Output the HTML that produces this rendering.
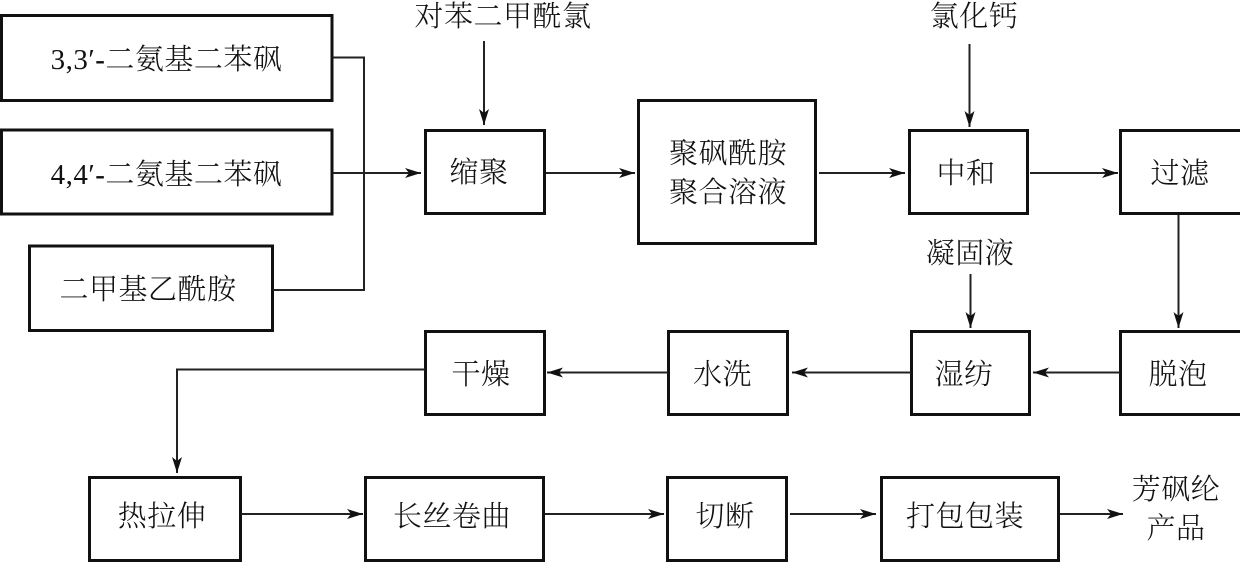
<!DOCTYPE html>
<html lang="zh">
<head>
<meta charset="utf-8">
<style>
html,body{margin:0;padding:0;background:#fff;width:1240px;height:562px;overflow:hidden}
svg{display:block}
text{font-family:"Liberation Serif","Noto Serif CJK SC",serif;font-size:29px;font-weight:300;fill:#111;text-anchor:middle;letter-spacing:0.5px}
text tspan{font-weight:700}
.b{fill:#fff;stroke:#111;stroke-width:3}
.l{fill:none;stroke:#222;stroke-width:2}
</style>
</head>
<body>
<svg width="1240" height="562" viewBox="0 0 1240 562" xmlns="http://www.w3.org/2000/svg">
<defs>
<marker id="a" markerUnits="userSpaceOnUse" markerWidth="16" markerHeight="12" refX="16" refY="6" orient="auto">
<path d="M0 1 L16 6 L0 11 L4 6 Z" fill="#111"/>
</marker>
</defs>
<rect class="b" x="1.500" y="15.500" width="330.500" height="85"/>
<rect class="b" x="1.500" y="130" width="330.500" height="84"/>
<rect class="b" x="29.500" y="246" width="243" height="84.500"/>
<rect class="b" x="425.500" y="130.500" width="119" height="83"/>
<rect class="b" x="638.500" y="100.500" width="177" height="143"/>
<rect class="b" x="909.500" y="130.500" width="118" height="83"/>
<rect class="b" x="1120.500" y="130.500" width="122" height="83"/>
<rect class="b" x="1120.500" y="331.500" width="122" height="83"/>
<rect class="b" x="911.500" y="331.500" width="118" height="83"/>
<rect class="b" x="668.500" y="331.500" width="119" height="83"/>
<rect class="b" x="425.500" y="331.500" width="119" height="83"/>
<rect class="b" x="89.500" y="477.500" width="151" height="83"/>
<rect class="b" x="365.500" y="477.500" width="178" height="83"/>
<rect class="b" x="667.500" y="477.500" width="119" height="83"/>
<rect class="b" x="881.500" y="477.500" width="177" height="83"/>

<path class="l" d="M333 57.500H364V290H273"/>
<path class="l" d="M333 173H421" marker-end="url(#a)"/>
<path class="l" d="M484 41V125" marker-end="url(#a)"/>
<path class="l" d="M546 173H635" marker-end="url(#a)"/>
<path class="l" d="M819 173H905" marker-end="url(#a)"/>
<path class="l" d="M1030 173H1118" marker-end="url(#a)"/>
<path class="l" d="M969.500 44V127" marker-end="url(#a)"/>
<path class="l" d="M970.500 274V328" marker-end="url(#a)"/>
<path class="l" d="M1178.500 215V328" marker-end="url(#a)"/>
<path class="l" d="M1120 372.500H1033" marker-end="url(#a)"/>
<path class="l" d="M911 372.500H792" marker-end="url(#a)"/>
<path class="l" d="M668 372.500H547" marker-end="url(#a)"/>
<path class="l" d="M425 369.500H177V473" marker-end="url(#a)"/>
<path class="l" d="M241 514H363" marker-end="url(#a)"/>
<path class="l" d="M545 514H664" marker-end="url(#a)"/>
<path class="l" d="M790 514H876" marker-end="url(#a)"/>
<path class="l" d="M1060 514H1123" marker-end="url(#a)"/>

<text x="166.500" y="69">3,3′<tspan>-</tspan>二氨基二苯砜</text>
<text x="166.500" y="184">4,4′<tspan>-</tspan>二氨基二苯砜</text>
<text x="148" y="299">二甲基乙酰胺</text>
<text x="479" y="182">缩聚</text>
<text x="728" y="163">聚砜酰胺</text>
<text x="728" y="202">聚合溶液</text>
<text x="966" y="183">中和</text>
<text x="1180" y="183">过滤</text>
<text x="503" y="26">对苯二甲酰氯</text>
<text x="974" y="26">氯化钙</text>
<text x="970" y="263">凝固液</text>
<text x="1178" y="384">脱泡</text>
<text x="964" y="384">湿纺</text>
<text x="722.500" y="384">水洗</text>
<text x="481" y="384">干燥</text>
<text x="162" y="526">热拉伸</text>
<text x="452" y="526">长丝卷曲</text>
<text x="725" y="526">切断</text>
<text x="965" y="526">打包包装</text>
<text x="1176" y="499">芳砜纶</text>
<text x="1176" y="538">产品</text>
</svg>
</body>
</html>
